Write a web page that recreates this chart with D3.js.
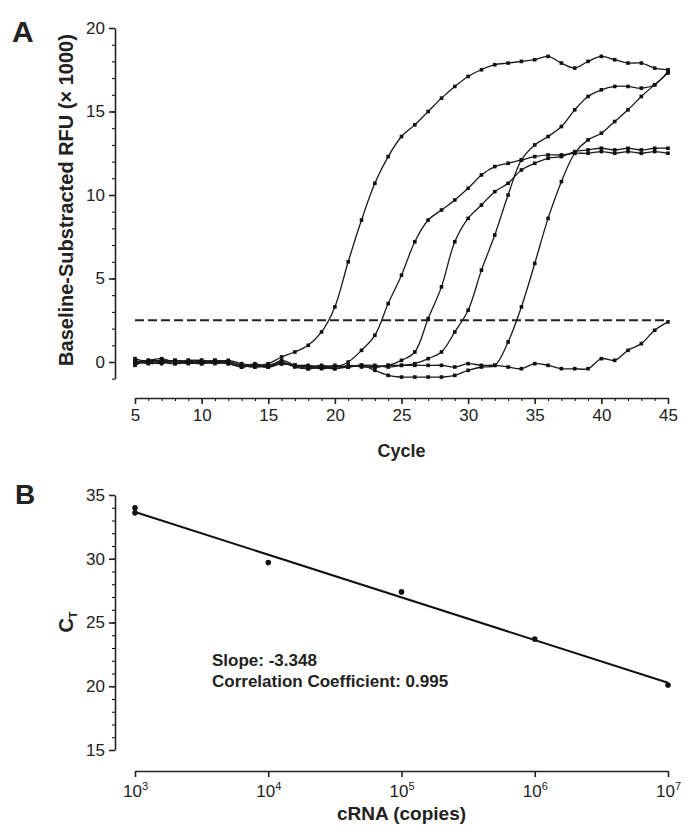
<!DOCTYPE html>
<html>
<head>
<meta charset="utf-8">
<script src="https://cdn.jsdelivr.net/npm/d3@7"></script>
<style>
  body { margin: 0; background: #fff; }
  text { font-family: "Liberation Sans", Arial, Helvetica, sans-serif; fill: #222; }
</style>
</head>
<body>
<div id="chart-placeholder"></div>
<script>

// ---- panel A data: baseline-substracted RFU (x 1000) per cycle ----
const cycles = [5,6,7,8,9,10,11,12,13,14,15,16,17,18,19,20,21,22,23,24,25,26,27,28,29,30,31,32,33,34,35,36,37,38,39,40,41,42,43,44,45];

const rfu_1e7 = [0.0,0.1,0.2,0.0,0.1,0.1,0.0,0.1,-0.1,-0.2,-0.1,
	0.3,0.6,1.0,1.8,3.3,6.0,8.5,10.7,12.3,13.5,14.2,15.0,15.8,16.5,17.1,17.5,17.8,17.9,18.0,18.1,18.3,17.9,17.6,18.0,18.3,18.1,17.9,17.9,17.6,17.5];
const rfu_1e6 = [-0.1,0.0,0.1,-0.1,0.0,0.1,0.0,-0.1,-0.3,-0.2,-0.3,
	-0.1,-0.2,-0.3,-0.2,-0.3,0.0,
	0.7,1.6,3.5,5.2,7.2,8.5,9.1,9.7,10.4,11.2,11.7,11.9,12.1,12.3,12.4,12.4,12.5,12.5,12.6,12.5,12.6,12.5,12.6,12.5];
const rfu_1e5 = [0.1,-0.1,0.0,0.1,0.0,-0.1,0.1,0.0,-0.2,-0.3,-0.2,
	0.0,-0.3,-0.4,-0.3,-0.4,-0.2,-0.3,-0.3,-0.2,0.1,
	0.6,2.6,4.5,7.2,8.6,9.4,10.2,10.7,11.5,11.9,12.2,12.3,12.6,12.7,12.8,12.7,12.8,12.7,12.8,12.8];
const rfu_1e4 = [0.0,0.0,0.1,0.0,-0.1,0.0,0.1,0.0,-0.2,-0.2,-0.3,
	0.1,-0.2,-0.4,-0.3,-0.4,-0.3,-0.2,-0.2,-0.3,-0.2,-0.1,0.2,
	0.6,1.8,3.1,5.5,7.6,10.0,12.1,13.0,13.5,14.1,15.1,15.9,16.3,16.5,16.5,16.4,16.6,17.4];
const rfu_1e3 = [0.2,0.0,-0.1,0.1,0.0,-0.1,0.0,-0.1,-0.3,-0.1,-0.3,
	-0.1,-0.2,-0.3,-0.4,-0.3,-0.3,-0.2,-0.5,-0.8,-0.9,-0.9,-0.9,-0.9,-0.8,-0.5,-0.3,-0.2,
	1.2,3.3,5.9,8.6,10.8,12.5,13.3,13.7,14.4,15.1,15.9,16.6,17.3];
const rfu_ntc = [-0.2,0.1,0.0,-0.1,0.1,0.0,-0.1,0.0,-0.2,-0.3,-0.2,
	-0.1,-0.2,-0.2,-0.3,-0.2,-0.3,-0.2,-0.3,-0.2,-0.2,-0.2,-0.2,-0.2,-0.3,-0.1,-0.2,-0.2,-0.3,
	-0.4,-0.1,-0.2,-0.4,-0.4,-0.4,0.2,0.1,0.7,1.1,1.9,2.4];

const threshold = 2.5;
const xTicksA = [5,10,15,20,25,30,35,40,45];
const yTicksA = [0,5,10,15,20];

// ---- panel B data: standard curve ----
const copies = [1e3,1e3,1e4,1e5,1e6,1e7];
const ctValues = [34.0,33.6,29.7,27.4,23.7,20.1];
const slope = -3.348;
const corrCoef = 0.995;
const xTicksB = [1e3,1e4,1e5,1e6,1e7];
const yTicksB = [15,20,25,30,35];

function drawPanelA(svg) {
	let g = svg.append("g");

	let xScale = d3.scaleLinear().domain([5, 45]).range([135, 668]);
	let yScale = d3.scaleLinear().domain([-1, 20]).range([378.7, 28]);

	// y axis, minor ticks first
	g.append("g")
		.attr("transform", "translate(115, 0)")
		.call(d3.axisLeft(yScale).tickValues(d3.range(-1, 21)).tickSize(3).tickFormat(""))
		.call(a => a.select(".domain").remove());
	g.append("g")
		.attr("class", "axis")
		.attr("transform", "translate(115, 0)")
		.call(d3.axisLeft(yScale).tickValues(yTicksA).tickSize(6).tickSizeOuter(0).tickPadding(4));

	// x axis
	g.append("g")
		.attr("transform", "translate(0, 398)")
		.call(d3.axisBottom(xScale).tickValues(cycles).tickSize(3).tickFormat(""))
		.call(a => a.select(".domain").remove());
	g.append("g")
		.attr("class", "axis")
		.attr("transform", "translate(0, 398)")
		.call(d3.axisBottom(xScale).tickValues(xTicksA).tickSize(6).tickSizeOuter(0).tickPadding(5));

	// threshold
	g.append("line")
		.attr("x1", xScale(5)).attr("x2", xScale(45))
		.attr("y1", yScale(threshold)).attr("y2", yScale(threshold))
		.attr("stroke", "#222")
		.attr("stroke-width", 2)
		.attr("stroke-dasharray", "9 4");

	let series = [rfu_1e7, rfu_1e6, rfu_1e5, rfu_1e4, rfu_1e3, rfu_ntc];
	let line = d3.line()
		.x((d, i) => xScale(cycles[i]))
		.y(d => yScale(d))
		.curve(d3.curveCatmullRom.alpha(0.5));

	series.forEach(values => {
		g.append("path")
			.datum(values)
			.attr("d", line)
			.attr("fill", "none")
			.attr("stroke", "#1a1a1a")
			.attr("stroke-width", 1.3);
		g.append("g")
			.selectAll("rect")
			.data(values)
			.join("rect")
			.attr("x", (d, i) => xScale(cycles[i]) - 1.8)
			.attr("y", d => yScale(d) - 1.8)
			.attr("width", 3.6)
			.attr("height", 3.6)
			.attr("fill", "#111");
	});

	g.append("text")
		.attr("x", 12).attr("y", 42)
		.attr("font-size", 30).attr("font-weight", "bold")
		.text("A");

	g.append("text")
		.attr("transform", "translate(73, 200) rotate(-90)")
		.attr("text-anchor", "middle")
		.attr("font-size", 20).attr("font-weight", "bold")
		.text("Baseline-Substracted RFU (\u00d7 1000)");

	g.append("text")
		.attr("x", (xScale(5) + xScale(45)) / 2).attr("y", 457)
		.attr("text-anchor", "middle")
		.attr("font-size", 18).attr("font-weight", "bold")
		.text("Cycle");
}

function drawPanelB(svg) {
	let g = svg.append("g");

	let xScale = d3.scaleLog().domain([1e3, 1e7]).range([135, 668]);
	let yScale = d3.scaleLinear().domain([15, 35]).range([750, 495]);

	g.append("g")
		.attr("transform", "translate(115, 0)")
		.call(d3.axisLeft(yScale).tickValues(d3.range(15, 36)).tickSize(3).tickFormat(""))
		.call(a => a.select(".domain").remove());
	g.append("g")
		.attr("class", "axis")
		.attr("transform", "translate(115, 0)")
		.call(d3.axisLeft(yScale).tickValues(yTicksB).tickSize(6).tickSizeOuter(0).tickPadding(4));

	let xAxis = g.append("g")
		.attr("class", "axis")
		.attr("transform", "translate(0, 771)")
		.call(d3.axisBottom(xScale).tickValues(xTicksB).tickSize(6).tickSizeOuter(0).tickPadding(5).tickFormat(""));
	xAxis.selectAll(".tick").append("text")
		.attr("y", 26)
		.attr("text-anchor", "middle")
		.each(function (d) {
			let t = d3.select(this);
			t.append("tspan").text("10");
			t.append("tspan").attr("dy", -7).attr("font-size", 11).text(Math.round(Math.log10(d)));
		});

	// regression line through the mean point with the reported slope
	let logs = copies.map(c => Math.log10(c));
	let meanX = d3.mean(logs), meanY = d3.mean(ctValues);
	let fit = c => meanY + slope * (Math.log10(c) - meanX);
	g.append("line")
		.attr("x1", xScale(1e3)).attr("y1", yScale(fit(1e3)))
		.attr("x2", xScale(1e7)).attr("y2", yScale(fit(1e7)))
		.attr("stroke", "#111")
		.attr("stroke-width", 2);

	g.selectAll("circle")
		.data(copies)
		.join("circle")
		.attr("cx", d => xScale(d))
		.attr("cy", (d, i) => yScale(ctValues[i]))
		.attr("r", 2.8)
		.attr("fill", "#111");

	g.append("text")
		.attr("x", 212).attr("y", 666)
		.attr("font-size", 17).attr("font-weight", "bold")
		.text("Slope: " + slope);
	g.append("text")
		.attr("x", 212).attr("y", 687)
		.attr("font-size", 17).attr("font-weight", "bold")
		.text("Correlation Coefficient: " + corrCoef);

	g.append("text")
		.attr("x", 15).attr("y", 504)
		.attr("font-size", 28).attr("font-weight", "bold")
		.text("B");

	let yl = g.append("text")
		.attr("transform", "translate(73, 622) rotate(-90)")
		.attr("text-anchor", "middle")
		.attr("font-size", 20).attr("font-weight", "bold");
	yl.append("tspan").text("C");
	yl.append("tspan").attr("dy", 4).attr("font-size", 11).text("T");

	g.append("text")
		.attr("x", (xScale(1e3) + xScale(1e7)) / 2).attr("y", 820)
		.attr("text-anchor", "middle")
		.attr("font-size", 19).attr("font-weight", "bold")
		.text("cRNA (copies)");
}

let svg = d3.select("#chart-placeholder")
	.append("svg")
	.attr("width", 684)
	.attr("height", 830);

drawPanelA(svg);
drawPanelB(svg);

svg.selectAll(".axis path, .axis line").attr("stroke", "#222").attr("stroke-width", 1.6);
svg.selectAll(".axis text").attr("font-size", 17).attr("fill", "#222");

</script>
</body>
</html>
